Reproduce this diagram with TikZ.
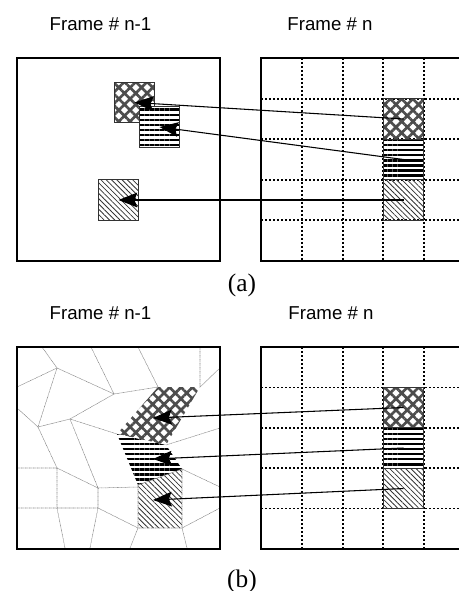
\documentclass[tikz,border=0pt]{standalone}
\usepackage{fontspec}
\setmainfont{Liberation Serif}
\setsansfont{Liberation Sans}
\usetikzlibrary{patterns.meta,arrows.meta}

\tikzset{
  framebox/.style={draw,line width=1pt},
  gridline/.style={line width=1pt,dash pattern=on 1.6pt off 1.4pt},
  mesh/.style={gray,line width=0.4pt,dash pattern=on 0.6pt off 0.4pt},
  blk/.style={draw=black!80,line width=0.6pt,inner sep=0pt,minimum size=30.4pt},
  xhatch/.style={pattern={Hatch[angle=45,distance=6pt,line width=2pt]},pattern color=black!70},
  hstripe/.style={preaction={fill=white},pattern={Lines[angle=0,distance=3.8pt,line width=1.8pt]},pattern color=black},
  dstripe/.style={pattern={Lines[angle=-45,distance=2.8pt,line width=0.6pt]},pattern color=black!80},
  mv/.style={-{Stealth[length=14pt,width=11pt,inset=2pt]},line width=0.8pt},
  frametitle/.style={font=\sffamily\fontsize{14}{16}\selectfont,inner sep=0pt},
  subcap/.style={font=\fontsize{19}{22}\selectfont,inner sep=0pt}
}

\begin{document}
\begin{tikzpicture}[x=0.75pt,y=0.75pt,yscale=-1,xscale=1]
\useasboundingbox (0,0) rectangle (459,591);

% ---------- (a) ----------
% Text Node
\node[frametitle] (tpa) at (100.5,24) {Frame \# n-1};
\node[frametitle] (tna) at (330,24) {Frame \# n};

%Shape: Rectangle (frame n-1)
\draw[framebox] (17,58) rectangle (220,261);
%Shape: Frame n with block grid
\draw[framebox] (459,58) -- (261,58) -- (261,261) -- (459,261);
\foreach \x in {302,343,383,424} \draw[gridline] (\x,58) -- (\x,261);
\foreach \y in {99,139,180,220} \draw[gridline] (261,\y) -- (459,\y);

% blocks of frame n
\node[blk,xhatch] (xb) at (403.5,119) {};
\node[blk,hstripe] (hb) at (403.5,159.5) {};
\node[blk,dstripe] (db) at (403.5,200) {};

% matched blocks of frame n-1
\node[blk,xhatch] (xa) at (134.5,102.5) {};
\node[blk,hstripe] (ha) at (159.5,127) {};
\node[blk,dstripe] (da) at (118.5,200) {};

% motion vectors
\draw[mv] (xb.center) -- (xa.center);
\draw[mv] (hb.center) -- (ha.center);
\draw[mv] (db.center) -- (da.center);

% Text Node
\node[subcap] (capa) at (242,285) {(a)};

% ---------- (b) ----------
% Text Node
\node[frametitle] (tpb) at (100.5,313) {Frame \# n-1};
\node[frametitle] (tnb) at (331,313) {Frame \# n};

%Shape: mesh of frame n-1
\draw[mesh] (42,347) -- (57,368) -- (17,387);
\draw[mesh] (57,368) -- (114,394) -- (91,347);
\draw[mesh] (57,368) -- (38,427) -- (17,408);
\draw[mesh] (38,427) -- (70,419) -- (114,394);
\draw[mesh] (70,419) -- (117,434);
\draw[mesh] (38,427) -- (57,468) -- (98,488) -- (70,419);
\draw[mesh] (17,468) -- (57,468) -- (57,508) -- (98,508) -- (98,488) -- (138,487);
\draw[mesh] (17,508) -- (57,508) -- (65,548);
\draw[mesh] (98,508) -- (138,528) -- (130,548);
\draw[mesh] (98,508) -- (90,548);
\draw[mesh] (114,394) -- (158,387) -- (138,347);
\draw[mesh] (200,347) -- (200,387) -- (220,368);
\draw[mesh] (166,445) -- (220,428);
\draw[mesh] (182,469) -- (220,487);
\draw[mesh] (182,528) -- (220,508);
\draw[mesh] (182,528) -- (187,548);

% matched regions of frame n-1
\path[xhatch] (117,434) -- (158,387) -- (200,387) -- (166,445) -- cycle;
\path[hstripe] (117,434) -- (166,445) -- (182,469) -- (138,485) -- cycle;
\path[dstripe] (138,485) -- (182,469) -- (182,528) -- (138,528) -- cycle;
\draw[mesh] (138,485) -- (182,469) -- (182,528) -- (138,528) -- cycle;
\coordinate (xr) at (153,418);
\coordinate (hr) at (153,459);
\coordinate (dr) at (153,500);

%Shape: Rectangle (frame n-1)
\draw[framebox] (17,347) rectangle (220,549);
%Shape: Frame n with block grid
\draw[framebox] (459,347) -- (261,347) -- (261,549) -- (459,549);
\foreach \x in {302,343,383,424} \draw[gridline] (\x,347) -- (\x,549);
\foreach \y in {387.5,428,468,508.5} \draw[gridline] (261,\y) -- (459,\y);

% blocks of frame n
\node[blk,xhatch] (xn) at (403.5,407.5) {};
\node[blk,hstripe] (hn) at (403.5,448) {};
\node[blk,dstripe] (dn) at (403.5,488.5) {};

% motion vectors
\draw[mv] (xn.center) -- (xr);
\draw[mv] (hn.center) -- (hr);
\draw[mv] (dn.center) -- (dr);

% Text Node
\node[subcap] (capb) at (242,581) {(b)};
\end{tikzpicture}
\end{document}
